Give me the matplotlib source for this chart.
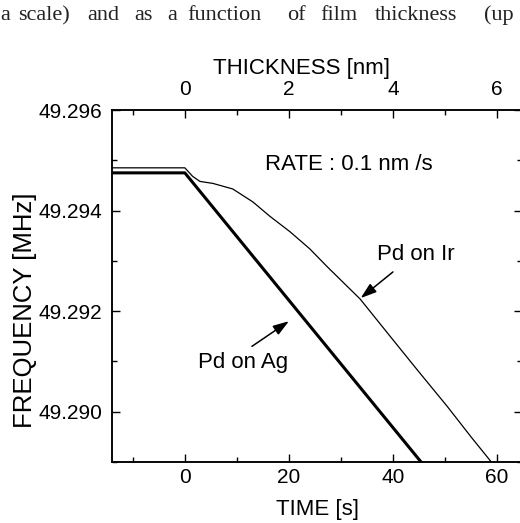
import numpy as np
import matplotlib
matplotlib.use('Agg')
import matplotlib.pyplot as plt
from matplotlib.ticker import MultipleLocator, FormatStrFormatter

plt.rcParams['font.family'] = ['Liberation Sans', 'DejaVu Sans']

# Pd on Ag (thick line)
t_ag = [-14, 0, 22.1, 45.4]
f_ag = [49.29475, 49.29475, 49.29195, 49.2890]

# Pd on Ir (thin line)
t_ir = [-14, 0, 1.5, 2.9, 5.4, 9.2, 13.1, 16.3, 20.2, 24.0, 27.3, 33.7, 40.0, 45.0, 50.4, 55.0, 58.9]
f_ir = [49.29485, 49.29485, 49.29468, 49.29458, 49.29454, 49.29443, 49.29417, 49.29389,
        49.29358, 49.29324, 49.29289, 49.29224, 49.29143, 49.29079, 49.29011, 49.2895, 49.2890]

rate = 0.1  # nm/s

caption_words = ['a', 'scale)', 'and', 'as', 'a', 'function', 'of', 'film', 'thickness', '(up']
caption_x = [0, 18, 87, 134, 167, 187, 287, 320, 375, 484]

W, H = 520, 523
fig = plt.figure(figsize=(W / 100, H / 100), dpi=100)

# scanned caption line on top
for word, x in zip(caption_words, caption_x):
    fig.text(x / W, 1 - 20 / H, word, family='Liberation Serif', fontsize=16,
             color='#222222', ha='left', va='baseline')

ax = fig.add_axes([112 / W, 1 - 462 / H, 410 / W, 352 / H])
ax.plot(t_ag, f_ag, color='black', lw=2.2, solid_joinstyle='round')
ax.plot(t_ir, f_ir, color='black', lw=0.9)

ax.set_xlim(-14, 64.8)
ax.set_ylim(49.289, 49.296)

ax.xaxis.set_major_locator(MultipleLocator(20))
ax.xaxis.set_minor_locator(MultipleLocator(10))
ax.yaxis.set_major_locator(MultipleLocator(0.002))
ax.yaxis.set_minor_locator(MultipleLocator(0.001))
ax.yaxis.set_major_formatter(FormatStrFormatter('%.3f'))

ax.tick_params(which='both', direction='in', right=True, width=1.0, labelsize=15)
ax.tick_params(axis='x', which='major', length=6, pad=4)
ax.tick_params(axis='y', which='major', length=6, pad=7)
ax.tick_params(which='minor', length=3.5)
for s in ax.spines.values():
    s.set_linewidth(1.1)

ax.set_xlabel('TIME [s]', fontsize=16)
ax.xaxis.set_label_coords(0.5, -0.136)
ax.xaxis.label.set_va('center')
ax.set_ylabel('FREQUENCY [MHz]', fontsize=18.5)
ax.yaxis.set_label_coords(-0.212, 0.43)
ax.yaxis.label.set_va('center')

# top axis: thickness
top = ax.twiny()
top.set_xlim(ax.get_xlim()[0] * rate, ax.get_xlim()[1] * rate)
top.xaxis.set_major_locator(MultipleLocator(2))
top.xaxis.set_minor_locator(MultipleLocator(1))
top.tick_params(which='both', direction='in', width=1.0, labelsize=15)
top.tick_params(which='major', length=6, pad=8)
top.tick_params(which='minor', length=3.5)
top.set_xlabel('THICKNESS [nm]', fontsize=16)
top.xaxis.set_label_coords(0.463, 1.119)
top.xaxis.label.set_va('center')
for s in top.spines.values():
    s.set_linewidth(1.1)

ax.text(15.4, 49.29492, 'RATE : 0.1 nm /s', fontsize=16, ha='left', va='center')
ax.text(44.4, 49.29312, 'Pd on Ir', fontsize=16, ha='center', va='center')
ax.text(11.2, 49.29097, 'Pd on Ag', fontsize=16, ha='center', va='center')

arrow = dict(arrowstyle='-|>,head_length=0.6,head_width=0.2', color='black', lw=1.1,
             mutation_scale=16, shrinkA=0, shrinkB=0)
ax.annotate('', xy=(33.8, 49.29226), xytext=(40.0, 49.29278), arrowprops=arrow)
ax.annotate('', xy=(20.0, 49.2918), xytext=(12.9, 49.2913), arrowprops=arrow)

fig.savefig('out.png', dpi=100)
